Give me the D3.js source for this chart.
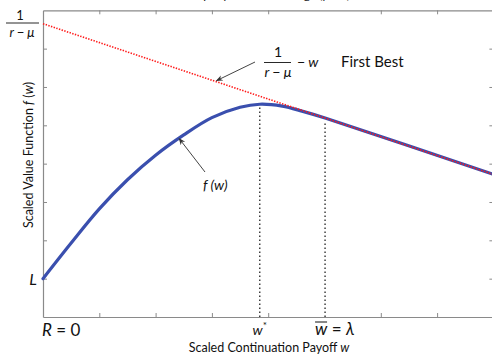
<!DOCTYPE html>
<html>
<head>
<meta charset="utf-8">
<script src="https://cdn.jsdelivr.net/npm/d3@7"></script>
<style>
  html, body { margin: 0; padding: 0; background: #fff; }
  svg { display: block; }
  text { font-family: Lato, "Open Sans", sans-serif; fill: #111; }
  .math { font-style: italic; }
</style>
</head>
<body>
<script>
// Scaled continuation payoff w (horizontal) and the value function f(w)
const payoffW   = [0, 0.5, 1.0, 1.5, 2.0, 2.5, 3.0, 3.5, 3.85, 4.25, 4.6, 5.01, 8.0];
const valueF    = [1.0, 1.93, 2.82, 3.58, 4.22, 4.75, 5.20, 5.47, 5.55, 5.50, 5.37, 5.19, 3.72];

// First-best line 1/(r - mu) - w, given by its two end points
const firstBestW = [0, 8];
const firstBestV = [7.65, 3.72];

// Marked payoffs: w* (peak of f) and w-bar = lambda
const wStar = 3.85;
const wBar  = 5.01;

// Axis ticks (no numeric labels)
const xTicks = [1, 2, 3, 4, 6, 7];
const yTicks = [1, 2, 3, 4, 5, 6, 7];
const levelL = 1.0;

const W = 492, H = 355;
const svg = d3.select("body").append("svg").attr("width", W).attr("height", H);

const x = d3.scaleLinear().domain([0, 8]).range([43, 493.4]);
const y = d3.scaleLinear().domain([0, 8]).range([317, 10.3]);

// Title (sits mostly above the visible area)
svg.append("text").attr("x", 350).attr("y", -1).attr("text-anchor", "end")
  .style("font-size", "12px").text("Company Valuation Range (μ < r)");

// Frame with inward ticks on all four sides
const axisColor = "#8a8a8a";
function styleAxis(g) {
  g.selectAll("path").attr("stroke", axisColor).attr("stroke-width", 1.2);
  g.selectAll("line").attr("stroke", axisColor).attr("stroke-width", 1);
  g.selectAll("text").remove();
}
svg.append("g").attr("transform", `translate(0,${y(0)})`)
  .call(d3.axisBottom(x).tickValues(xTicks).tickSizeInner(-4).tickSizeOuter(0)).call(styleAxis);
svg.append("g").attr("transform", `translate(0,${y(8)})`)
  .call(d3.axisTop(x).tickValues(xTicks).tickSizeInner(-4).tickSizeOuter(0)).call(styleAxis);
svg.append("g").attr("transform", `translate(${x(0)},0)`)
  .call(d3.axisLeft(y).tickValues(yTicks).tickSizeInner(-4).tickSizeOuter(0)).call(styleAxis);
svg.append("g").attr("transform", `translate(${x(8)},0)`)
  .call(d3.axisRight(y).tickValues(yTicks).tickSizeInner(-4).tickSizeOuter(0)).call(styleAxis);

// Vertical dotted markers at w* and w-bar, rising to f(w)
const fAt = w => valueF[payoffW.indexOf(w)];
[wStar, wBar].forEach(w => {
  svg.append("line")
    .attr("x1", x(w)).attr("x2", x(w))
    .attr("y1", y(0)).attr("y2", y(fAt(w)) + 3)
    .attr("stroke", "#333").attr("stroke-width", 1.4)
    .attr("stroke-dasharray", "1.4,2.6");
});

// Value function f(w)
const fLine = d3.line().x((d, i) => x(payoffW[i])).y(d => y(d)).curve(d3.curveCatmullRom.alpha(0.5));
svg.append("path").datum(valueF)
  .attr("d", fLine).attr("fill", "none")
  .attr("stroke", "#3a4fae").attr("stroke-width", 3.2).attr("stroke-linecap", "round");

// First-best line (red dotted)
const fbLine = d3.line().x((d, i) => x(firstBestW[i])).y(d => y(d));
svg.append("path").datum(firstBestV)
  .attr("d", fbLine).attr("fill", "none")
  .attr("stroke", "#ff1a1a").attr("stroke-width", 1.6)
  .attr("stroke-dasharray", "1.4,1.4");

// Arrow marker
svg.append("defs").append("marker")
  .attr("id", "arr").attr("viewBox", "0 0 10 10").attr("refX", 9).attr("refY", 5)
  .attr("markerWidth", 7).attr("markerHeight", 7).attr("orient", "auto-start-reverse")
  .attr("markerUnits", "userSpaceOnUse")
  .append("path").attr("d", "M0,1 L10,5 L0,9 L3,5 Z").attr("fill", "#333");

function arrow(x1, y1, x2, y2) {
  svg.append("line").attr("x1", x1).attr("y1", y1).attr("x2", x2).attr("y2", y2)
    .attr("stroke", "#444").attr("stroke-width", 1).attr("marker-end", "url(#arr)");
}

// Annotation: first best
const fbAnchorW = 3.08;
const fbAnchorV = firstBestV[0] + (firstBestV[1] - firstBestV[0]) * fbAnchorW / 8;
arrow(255, 62, x(fbAnchorW), y(fbAnchorV) - 1);
const ax = 278;
svg.append("text").attr("x", ax).attr("y", 57).attr("text-anchor", "middle").style("font-size", "14px").text("1");
svg.append("line").attr("x1", 264).attr("x2", 291).attr("y1", 62.5).attr("y2", 62.5).attr("stroke", "#111").attr("stroke-width", 0.9);
svg.append("text").attr("x", ax).attr("y", 77).attr("text-anchor", "middle").attr("class", "math").style("font-size", "14px")
  .text("r − μ");
svg.append("text").attr("x", 297).attr("y", 67).attr("class", "math").style("font-size", "14px").text("− w");
svg.append("text").attr("x", 341).attr("y", 67).style("font-size", "15px").text("First Best");

// Annotation: f(w)
const fAnchorW = 2.4;
arrow(205, 172, x(fAnchorW) + 1, 138.5);
svg.append("text").attr("x", 203).attr("y", 190).attr("class", "math").style("font-size", "14px").text("f (w)");

// Vertical-axis end labels
svg.append("text").attr("x", 20).attr("y", 20).attr("text-anchor", "middle").style("font-size", "13px").text("1");
svg.append("line").attr("x1", 6).attr("x2", 39).attr("y1", 23).attr("y2", 23).attr("stroke", "#111").attr("stroke-width", 0.9);
svg.append("text").attr("x", 22).attr("y", 37).attr("text-anchor", "middle").attr("class", "math").style("font-size", "13px").text("r − μ");
svg.append("text").attr("x", 33).attr("y", y(levelL) + 6).attr("text-anchor", "middle").attr("class", "math")
  .style("font-size", "16px").text("L");

// Horizontal-axis labels
svg.append("text").attr("x", 42).attr("y", 336).style("font-size", "17px")
  .html('<tspan font-style="italic">R</tspan> = 0');
svg.append("text").attr("x", x(wStar)).attr("y", 335).attr("text-anchor", "middle").style("font-size", "14px")
  .html('<tspan font-style="italic">w</tspan><tspan dy="-6" font-size="10px">*</tspan>');
svg.append("text").attr("x", x(wBar) - 10).attr("y", 335).style("font-size", "17px")
  .html('<tspan font-style="italic">w</tspan> = <tspan font-style="italic">λ</tspan>');
svg.append("line").attr("x1", x(wBar) - 10).attr("x2", x(wBar) + 2).attr("y1", 322).attr("y2", 322)
  .attr("stroke", "#111").attr("stroke-width", 1);

// Axis titles
svg.append("text").attr("x", 269).attr("y", 352).attr("text-anchor", "middle").style("font-size", "12.5px")
  .html('Scaled Continuation Payoff <tspan font-style="italic">w</tspan>');
svg.append("text").attr("transform", "translate(33,155) rotate(-90)").attr("text-anchor", "middle")
  .style("font-size", "12.5px")
  .html('Scaled Value Function <tspan font-style="italic">f</tspan> (<tspan font-style="italic">w</tspan>)');
</script>
</body>
</html>
